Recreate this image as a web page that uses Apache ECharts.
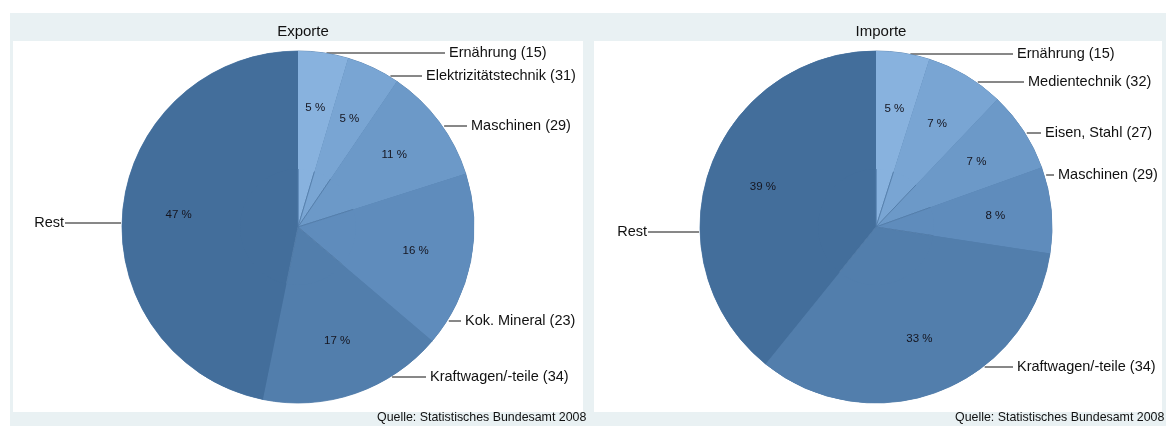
<!DOCTYPE html>
<html>
<head>
<meta charset="utf-8">
<script src="https://cdn.jsdelivr.net/npm/echarts@6/dist/echarts.min.js"></script>
<style>
	html, body { margin: 0; padding: 0; background: #fff; }
	#chart { width: 1168px; height: 426px; }
</style>
</head>
<body>
<div id="chart"></div>
<script>
	// Anteile in Prozent, im Uhrzeigersinn ab 12 Uhr
	var exportNames = ['Ernährung (15)', 'Elektrizitätstechnik (31)', 'Maschinen (29)', 'Kok. Mineral (23)', 'Kraftwagen/-teile (34)', 'Rest'];
	var exportShares = [4.6, 4.9, 10.6, 16.1, 17.0, 46.8];

	var importNames = ['Ernährung (15)', 'Medientechnik (32)', 'Eisen, Stahl (27)', 'Maschinen (29)', 'Kraftwagen/-teile (34)', 'Rest'];
	var importShares = [4.9, 7.2, 7.4, 7.9, 33.4, 39.2];

	var sliceColors = ['#88b2de', '#79a5d3', '#6c99c8', '#5f8cbc', '#527eac', '#436e9b'];

	// label anchor [y, text x] per slice (layout only)
	var exportLabelPos = [[53, 449], [76, 426], [126, 471], [321, 465], [377, 430], [223, 64]];
	var importLabelPos = [[54, 1017], [82, 1028], [133, 1045], [175, 1058], [367, 1017], [232, 647]];

	var R = 176;
	var panels = [
		{ title: 'Exporte', names: exportNames, values: exportShares, cx: 298, cy: 227, pos: exportLabelPos },
		{ title: 'Importe', names: importNames, values: importShares, cx: 876, cy: 227, pos: importLabelPos }
	];

	var chart = echarts.init(document.getElementById('chart'));

	function makeData(p) {
		return p.names.map(function(n, i) {
			return { name: n, value: p.values[i], itemStyle: { color: sliceColors[i] } };
		});
	}

	function outerLayout(p) {
		return function(params) {
			var lp = p.pos[params.dataIndex];
			var y = lp[0], tx = lp[1];
			var dy = y - p.cy;
			var dx = Math.sqrt(Math.max(R * R - dy * dy, 0));
			if(tx > p.cx) {
				return {
					x: tx, y: y, align: 'left', verticalAlign: 'middle',
					labelLinePoints: [[p.cx + dx + 2, y], [tx - 4, y], [tx - 4, y]]
				};
			}
			return {
				x: tx, y: y, align: 'right', verticalAlign: 'middle',
				labelLinePoints: [[p.cx - dx - 1, y], [tx + 1, y], [tx + 1, y]]
			};
		};
	}

	var series = [];
	panels.forEach(function(p) {
		series.push({
			type: 'pie',
			center: [p.cx, p.cy],
			radius: [0, R],
			startAngle: 90,
			clockwise: true,
			silent: true,
			animation: false,
			itemStyle: { borderColor: '#4f7aa7', borderWidth: 0.8 },
			label: {
				show: true,
				position: 'outside',
				color: '#111',
				overflow: 'none',
				width: 200,
				fontFamily: 'Liberation Sans, Arial, sans-serif',
				fontSize: 14.5
			},
			labelLine: { show: true, lineStyle: { color: '#111', width: 1 } },
			labelLayout: outerLayout(p),
			data: makeData(p)
		});
		series.push({
			type: 'pie',
			center: [p.cx, p.cy],
			radius: [58, R],
			startAngle: 90,
			clockwise: true,
			silent: true,
			animation: false,
			itemStyle: { color: 'transparent', borderWidth: 0 },
			label: {
				show: true,
				position: 'inside',
				color: '#15151f',
				fontFamily: 'Liberation Sans, Arial, sans-serif',
				fontSize: 11.5,
				formatter: function(params) {
					return Math.round(params.percent) + ' %';
				}
			},
			labelLine: { show: false },
			data: makeData(p)
		});
	});

	var option = {
		backgroundColor: '#ffffff',
		animation: false,
		graphic: [
			{ type: 'rect', z: -10, shape: { x: 10, y: 13, width: 578, height: 413 }, style: { fill: '#e9f1f3' } },
			{ type: 'rect', z: -9, shape: { x: 13, y: 41, width: 570, height: 371 }, style: { fill: '#ffffff' } },
			{ type: 'rect', z: -10, shape: { x: 588, y: 13, width: 578, height: 413 }, style: { fill: '#e9f1f3' } },
			{ type: 'rect', z: -9, shape: { x: 594, y: 41, width: 568, height: 371 }, style: { fill: '#ffffff' } },
			{ type: 'text', z: 5, left: 377, top: 412, style: { text: 'Quelle: Statistisches Bundesamt 2008', font: '12.4px Liberation Sans, Arial, sans-serif', fill: '#111' } },
			{ type: 'text', z: 5, left: 955, top: 412, style: { text: 'Quelle: Statistisches Bundesamt 2008', font: '12.4px Liberation Sans, Arial, sans-serif', fill: '#111' } }
		],
		title: panels.map(function(p) {
			return {
				text: p.title,
				left: p.cx,
				top: 19,
				textAlign: 'center',
				textStyle: { fontSize: 15, fontWeight: 'normal', color: '#111', fontFamily: 'Liberation Sans, Arial, sans-serif' }
			};
		}),
		series: series
	};

	chart.setOption(option);
</script>
</body>
</html>
